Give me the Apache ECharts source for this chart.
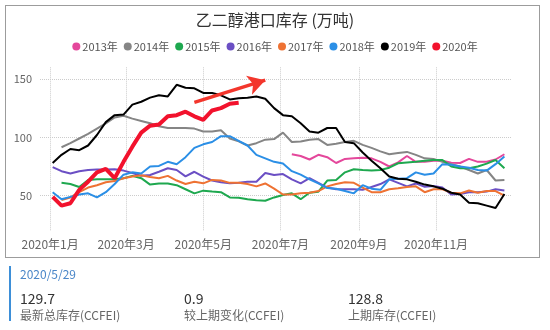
<!DOCTYPE html>
<html><head><meta charset="utf-8">
<script src="https://cdn.jsdelivr.net/npm/echarts@6/dist/echarts.min.js"></script>
<style>
html,body{margin:0;padding:0;background:#fff;font-family:"Noto Sans CJK SC","Noto Sans",sans-serif;}
#wrap{position:relative;width:550px;height:330px;overflow:hidden;}
#box{position:absolute;left:5px;top:5px;width:533px;height:251px;border:1.5px solid #9c9c9c;}
#chart{position:absolute;left:0;top:0;width:550px;height:330px;}
#bar{position:absolute;left:9px;top:266px;width:2px;height:55px;background:#3d8fd8;}
.t{position:absolute;white-space:nowrap;}
.date{left:20px;top:265px;font-size:12px;color:#4a86c8;}
.num{top:288px;font-size:14px;color:#333;}
.lab{top:306px;font-size:12px;color:#666;}
</style></head>
<body><div id="wrap">
<div id="box"></div>
<div id="chart"></div>
<div id="bar"></div>
<div class="t date" id="d0"></div>
<div class="t num" style="left:20px" id="n0"></div>
<div class="t lab" style="left:20px" id="l0"></div>
<div class="t num" style="left:184px" id="n1"></div>
<div class="t lab" style="left:184px" id="l1"></div>
<div class="t num" style="left:348px" id="n2"></div>
<div class="t lab" style="left:348px" id="l2"></div>
</div>
<script>
const title = '乙二醇港口库存 (万吨)';
const years = ['2013年','2014年','2015年','2016年','2017年','2018年','2019年','2020年'];
const colors = ['#e4479b','#858585','#1ea84f','#6b4fc4','#ee7233','#2b8fe6','#000000','#f2122d'];
const weeks = ['2020-01-03','2020-01-10','2020-01-17','2020-01-24','2020-01-31','2020-02-07','2020-02-14','2020-02-21','2020-02-28',
'2020-03-06','2020-03-13','2020-03-20','2020-03-27','2020-04-03','2020-04-10','2020-04-17','2020-04-24','2020-05-01','2020-05-08',
'2020-05-15','2020-05-22','2020-05-29','2020-06-05','2020-06-12','2020-06-19','2020-06-26','2020-07-03','2020-07-10','2020-07-17',
'2020-07-24','2020-07-31','2020-08-07','2020-08-14','2020-08-21','2020-08-28','2020-09-04','2020-09-11','2020-09-18','2020-09-25',
'2020-10-02','2020-10-09','2020-10-16','2020-10-23','2020-10-30','2020-11-06','2020-11-13','2020-11-20','2020-11-27','2020-12-04',
'2020-12-11','2020-12-18','2020-12-25'];
const v2013 = [null,null,null,null,null,null,null,null,null,null,null,null,null,null,null,null,null,null,null,null,null,null,null,null,null,null,null,
85.5,84,81,85,83,78,81.5,82,82.5,82,79,75,78.5,84,79,79,80,80,78.3,78,81.5,79,79,81,85.5];
const v2014 = [null,91.5,95,99,103,107.5,112,117,118.5,116,114,112,109.5,108,108,108,107.5,105,105,106,99,96.5,93,95,98,98.5,104,
96,96.5,98,98.5,93.5,94.5,96,97,93.5,91,88,85.5,86.5,87.5,85,82,81.5,79,77,75,72,69,72,63,63.5];
const v2015 = [null,61,60,57.5,63.5,64,64,64,65,67,65,59.5,60.5,60.5,59,55.5,52,54.3,53.5,53,48.5,48.3,47,46,45.7,48.5,50.6,
52,47,52.5,53.4,63,63.5,70,72.6,72,71.5,72,74,77.8,78.5,79,80,80.6,80.6,75,73.5,73.5,75,77.5,80.6,73.5];
const v2016 = [74.5,71,69,71,72,72.5,72.5,72.6,71.5,69.5,67,67.7,70.5,73.5,72,66.5,70.5,66.3,63,61.5,60.6,61,62,62,69.5,67.7,68.5,
64,60.6,65,61,57,55.5,55.5,55.5,55,57.5,60,64,61,58,60.5,57.7,58.3,57,51,51.5,53,53,53.5,55.5,54.5];
const v2017 = [null,46.3,48.5,53,57,59,61.5,62.5,65,66.5,67.5,66,65,67,63,60,62,60.6,63.5,63,61,61,60,58,60.5,56,51,
51,52,52.5,54,58,60,61.5,61,57,53,53,55.5,56.3,57.5,58,53,55.5,55.5,52.6,52,54.5,52.5,54,54,50];
const v2018 = [53,47,49,51,52,48.5,53,60,68,70,69,75,75.5,79,77,83,91,94,96,101,101,97,93,85,82,79,77.5,
71,68,64,60.5,56.5,56,54,52,59,56,55,64,64.5,65,70,68,69,77,76.5,75,74,72,71.5,77,83.5];
const v2019 = [78,85,90,89,93,102,113,119,119.5,128,130.5,134,136,135,145,142.5,142,138,138,136,132.5,133.5,134,135,133,125,119,
118,112,105,104,108,108,96,95,87,80,73.5,66.5,64.5,64,62,59.5,58,56,52.5,51,44,43.5,41.5,39.5,51.5];
const v2020 = [49,41.5,43.5,55,62,70,73,65,79,92,104,110,111,118,119,122,118,115,123,125,128.8,129.7];
const arrowFrom = ['2020-04-24',130];
const arrowTo = ['2020-06-19',149];
const panelDate = '2020/5/29';
const panelNums = ['129.7','0.9','128.8'];
const panelLabs = ['最新总库存(CCFEI)','较上期变化(CCFEI)','上期库存(CCFEI)'];

document.getElementById('d0').textContent = panelDate;
for (let i=0;i<3;i++){document.getElementById('n'+i).textContent=panelNums[i];document.getElementById('l'+i).textContent=panelLabs[i];}

const allVals = [v2013,v2014,v2015,v2016,v2017,v2018,v2019,v2020];
const font = '"Noto Sans CJK SC","Noto Sans",sans-serif';
const series = allVals.map((vals,i)=>{
  const s = {
    name: years[i], type:'line', showSymbol:false, symbol:'none', smooth:false,
    data: vals.map((v,k)=>[weeks[k], v]),
    lineStyle:{width: i===7?4:2, color: colors[i]},
    itemStyle:{color: colors[i]},
    z: i===7?5:(i===6?4:2),
    animation:false
  };
  if (i===7){
    s.markLine = {silent:true, symbol:['none','arrow'], symbolSize:[15,17], animation:false,
      label:{show:false}, lineStyle:{type:'solid', color:'#f3362c', width:3.5},
      emphasis:{disabled:true},
      data:[[{coord:arrowFrom},{coord:arrowTo}]]};
  }
  return s;
});

const chart = echarts.init(document.getElementById('chart'));
chart.setOption({
  animation:false,
  textStyle:{fontFamily:font},
  title:{text:title, left:'center', top:7, textStyle:{fontSize:16, fontWeight:'normal', color:'#333', fontFamily:font}},
  legend:{top:36, left:'center', icon:'circle', itemWidth:8, itemHeight:8, itemGap:6,
    textStyle:{fontSize:11, color:'#555', padding:[0,0,0,-3]}, data:years},
  grid:{left:40, right:38, top:67.3, bottom:99.3},
  xAxis:{type:'time', min:'2019-12-24', max:'2020-12-31', splitNumber:5,
    axisLine:{show:false}, axisTick:{show:false},
    axisLabel:{fontSize:12, color:'#666', margin:8, showMinLabel:false, showMaxLabel:false,
      formatter:function(val){const d=new Date(val);return d.getFullYear()+'年'+(d.getMonth()+1)+'月';}},
    splitLine:{show:true, showMinLine:false, showMaxLine:false, lineStyle:{type:'dotted', color:'#ccc'}}},
  yAxis:{type:'value', min:20, max:160, splitNumber:3,
    axisLine:{show:false}, axisTick:{show:false},
    axisLabel:{fontSize:11, color:'#666', showMinLabel:false, showMaxLabel:false, margin:8},
    splitLine:{show:true, showMinLine:false, showMaxLine:false, lineStyle:{type:'dotted', color:'#ccc'}}},
  series: series
});
</script>
</body></html>
